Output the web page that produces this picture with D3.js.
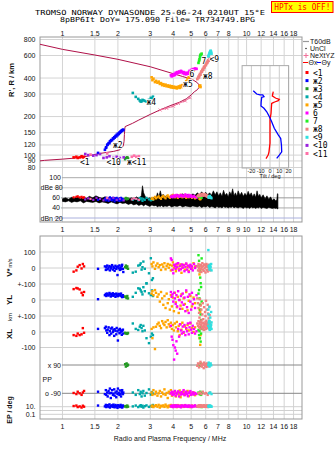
<!DOCTYPE html>
<html lang="en">
<head>
<meta charset="utf-8">
<title>Dynasonde ionogram</title>
<script src="https://cdn.jsdelivr.net/npm/d3@7"></script>
<style>
  body { margin: 0; background: #fff; }
  svg { display: block; }
  text { font-family: "Liberation Sans", Arial, sans-serif; fill: #111; }
  .mono { font-family: "DejaVu Sans Mono", "Liberation Mono", monospace; }
</style>
</head>
<body>
<script>
  // header text
  var titleLine1 = "TROMSO NORWAY   DYNASONDE 25-06-24 0210UT 15\u00B0E";
  var titleLine2 = "8pBP6It DoY= 175.090 File= TR734749.BPG";
  var warnText = "HPTx is OFF!";

  // axis ticks
  var freqTicks = [1, 1.5, 2, 3, 4, 5, 6, 7, 8, 10, 12, 14, 16, 18];
  var freqTicksMid = [1, 1.5, 2, 3, 4, 5, 6, 7, 8, 9, 10, 12, 14, 16, 18];
  var rangeTicks = [800, 600, 400, 300, 200, 150, 120, 100, 90, 80];
  var tiltTicks = [-20, -10, 0, 10, 20];

  // echo classes
  var groupNames = ["<1", "\u04362", "\u04363", "<4", "\u04365", "6", "7", "\u04368", "<9", "<10", "<11"];
  var groupColors = ["#ff0000", "#0000ff", "#229922", "#00a8a8", "#ffa500", "#ff00ff",
                     "#22ee22", "#f08080", "#30e0e0", "#9922dd", "#ff70a8"];

  // echoes: [freq MHz, range km, amplitude dB, V* m/s, YL km, XL km, PP deg, EP deg]
  var echo1 = [
    [1.15, 96, 61, -23, 68, -20, -88, 15], [1.19, 97, 62, -15, 75, -25, -95, 20],
    [1.21, 95, 63, 8, 72, -10, -80, 8], [1.24, 96, 61, 18, 66, -20, -90, 12],
    [1.27, 98, 62, -3, 45, -15, -100, 6], [1.29, 96, 60, 25, 30, 25, -85, 18],
    [1.31, 97, 61, 10, 50, -5, -75, 10]
  ];
  var echo2 = [
    [1.56, 104, 56, -5, 5, 20, -80, 20], [1.70, 110, 58, 10, 30, 25, -95, 12],
    [1.72, 114, 55, -12, 38, 34, -70, 30], [1.73, 115, 60, 4, 25, 10, -100, 8],
    [1.75, 120, 57, 15, 40, -5, -85, 15], [1.76, 121, 59, -8, 32, 15, -110, 25],
    [1.78, 124, 54, 2, 28, 30, -75, 10], [1.80, 124, 58, 12, 44, -20, -90, 40],
    [1.81, 128, 61, -15, 35, 5, -60, 6], [1.83, 129, 56, 6, 22, 22, -120, 18],
    [1.84, 131, 59, -3, 38, -10, -88, 12], [1.86, 131, 55, 18, 30, 28, -70, 22],
    [1.88, 135, 60, -10, 42, 0, -100, 9], [1.89, 134, 57, 8, 26, 12, -92, 35],
    [1.91, 138, 58, 0, 34, -25, -65, 14], [1.92, 137, 53, -18, 36, 18, -105, 7],
    [1.94, 141, 59, 14, 20, 8, -85, 28], [1.96, 140, 56, -6, 40, -15, -115, 11],
    [1.97, 144, 60, 5, 28, 26, -78, 16], [1.99, 143, 55, -44, 33, 4, -95, 5],
    [2.00, 147, 58, 10, 24, -55, -60, 24], [2.02, 146, 57, -2, 38, 14, -88, 13],
    [2.04, 150, 54, 16, 30, -8, -100, 19], [2.05, 149, 59, -12, 35, 20, -72, 8],
    [2.07, 153, 56, 3, 27, -2, -93, 30], [2.08, 152, 60, -8, 40, 10, -110, 10],
    [2.10, 156, 55, 12, 22, -18, -82, 15], [2.11, 155, 58, 20, 18, 6, -70, 6],
    [2.13, 158, 57, -5, 30, 15, -95, 21], [2.14, 157, 56, -25, 20, -10, -85, 12]
  ];
  var echo3 = [
    [2.19, 93, 58, 5, 22, -5, 95, 12], [2.21, 95, 60, 15, 18, -10, 80, 15],
    [2.23, 94, 57, 0, 12, -8, 100, 8], [2.25, 96, 59, 10, 25, -12, 85, 20],
    [2.27, 94, 58, -5, 10, -6, 92, 10]
  ];
  var echo4 = [
    [2.41, 306, 56, -29, 20, 55, -85, 12], [2.50, 285, 58, -23, 45, 20, -100, 20],
    [2.58, 275, 55, 15, 73, 13, -70, 8], [2.63, 267, 60, 19, 70, 34, -95, 15],
    [2.66, 262, 57, 29, 60, 45, -80, 25], [2.69, 263, 59, -10, 50, 25, -110, 10],
    [2.72, 270, 54, 5, 35, 5, -90, 18], [2.75, 268, 58, 40, 80, 40, -75, 6],
    [2.80, 265, 56, -5, 55, 10, -105, 14], [2.86, 263, 60, -96, 104, -40, -88, 22],
    [2.95, 270, 57, -33, 42, -72, -65, 9], [3.02, 280, 55, 61, 31, -30, -98, 16],
    [3.06, 276, 59, -75, 60, -10, -82, 11], [3.10, 286, 56, -64, 25, -20, -92, 28]
  ];
  var echo5 = [
    [3.05, 405, 58, 25, 40, 20, -85, 12], [3.08, 385, 60, 10, 55, -40, -100, 20],
    [3.12, 395, 57, 35, 30, 30, -70, 8], [3.18, 372, 62, -5, 62, -110, -95, 15],
    [3.22, 380, 59, 15, 45, 34, -80, 25], [3.28, 368, 61, 28, 20, 50, -105, 10],
    [3.33, 375, 63, 5, 35, 60, -90, 30], [3.38, 360, 60, 18, -10, 40, -75, 6],
    [3.43, 365, 58, -12, 50, 25, -110, 18], [3.48, 352, 62, 22, 10, 70, -85, 12],
    [3.53, 358, 64, 8, -30, 55, -95, 22], [3.58, 348, 61, 30, 25, 45, -65, 9],
    [3.63, 355, 59, -8, -50, 65, -100, 35], [3.68, 345, 63, 12, 40, 30, -88, 14],
    [3.73, 350, 65, 25, -20, 76, -120, 7], [3.78, 342, 62, 2, 5, 50, -80, 20],
    [3.83, 348, 60, 20, -60, 35, -92, 11], [3.88, 338, 64, -15, 30, 60, -70, 28],
    [3.93, 345, 62, 15, -40, 20, -105, 16], [3.98, 336, 66, 35, 15, 45, -85, 9],
    [4.03, 342, 63, 0, -70, 10, -95, 24], [4.08, 335, 61, 18, 45, 55, -78, 13],
    [4.13, 340, 65, -20, -15, 30, -110, 19], [4.18, 332, 63, 10, -45, 65, -90, 8],
    [4.23, 338, 60, 28, 20, 5, -82, 26], [4.28, 344, 64, -5, -81, 40, -98, 14],
    [4.33, 335, 62, 14, 0, -20, -72, 10], [4.38, 348, 66, 22, -35, 50, -115, 21],
    [4.43, 340, 63, -30, 35, 15, -86, 12], [4.48, 352, 61, 8, -55, 60, -94, 17],
    [4.55, 345, 64, 20, 10, -5, -80, 9], [4.62, 362, 62, -10, -25, 35, -100, 23],
    [4.70, 378, 60, 25, 50, 20, -90, 14], [4.78, 392, 63, 5, -65, 45, -75, 11],
    [4.85, 405, 61, -18, -5, 10, -108, 18], [4.95, 420, 64, 15, 25, 55, -88, 8],
    [5.05, 445, 60, -2, -40, 25, -96, 20], [5.15, 460, 62, 30, 15, 0, -84, 12],
    [5.25, 472, 59, 10, -20, 30, -102, 16], [5.55, 345, 58, -40, -60, -40, -92, 10],
    [5.60, 350, 57, -20, -75, -83, -85, 14], [5.62, 340, 58, -5, -30, -20, -98, 18]
  ];
  var echo6 = [
    [3.88, 420, 62, 60, 50, 40, -90, 15], [3.92, 412, 64, 50, 20, -30, -80, 10],
    [3.96, 425, 61, -12, 35, -50, -100, 22], [4.00, 418, 63, -33, -10, -85, -85, 8],
    [4.04, 430, 65, 20, 45, -178, -95, 18], [4.08, 422, 62, 10, 10, -100, -75, 12],
    [4.12, 440, 64, -5, -25, -120, -105, 25], [4.16, 432, 66, 25, 30, -60, -88, 9],
    [4.20, 445, 63, 5, -40, -140, -92, 14], [4.25, 438, 65, 30, 55, 20, -78, 20],
    [4.30, 450, 62, -15, 0, -30, -110, 11], [4.35, 442, 64, 12, -55, 50, -86, 16],
    [4.40, 455, 66, -8, 25, 10, -98, 7], [4.45, 448, 63, 22, -15, -10, -82, 22],
    [4.50, 436, 65, 2, 40, 35, -94, 13], [4.55, 445, 62, 18, -30, 0, -70, 18],
    [4.60, 430, 64, -20, 15, 45, -102, 10], [4.65, 440, 67, 8, -70, -20, -88, 26],
    [4.70, 428, 63, 28, 60, 25, -80, 12], [4.75, 438, 65, -10, -45, 5, -95, 17],
    [4.80, 432, 62, 15, 20, 55, -108, 9], [4.85, 445, 66, -25, -81, -15, -85, 21],
    [4.90, 455, 64, 5, 35, 30, -90, 14], [4.95, 450, 62, 20, -10, 60, -76, 11],
    [5.00, 462, 65, -5, -60, 15, -100, 19], [5.05, 458, 63, 10, 45, -5, -92, 8],
    [5.10, 470, 61, -15, -25, 40, -84, 16], [5.18, 468, 64, 25, 5, 20, -98, 12],
    [5.25, 475, 62, 0, -50, -10, -88, 23], [5.35, 472, 60, 12, 30, 5, -94, 10]
  ];
  var echo7 = [
    [5.48, 525, 62, 80, 40, 13, -85, 12], [5.52, 545, 64, 45, 62, -20, 95, 18],
    [5.55, 560, 63, 15, 10, 5, -95, 9], [5.58, 580, 65, -20, -30, -40, 85, 15],
    [5.60, 600, 63, -60, -60, 30, -80, 20], [5.63, 610, 61, -95, -90, -62, 100, 10],
    [5.66, 590, 62, -119, -125, -10, -100, 14], [5.70, 620, 60, 60, -10, 20, -88, 8]
  ];
  var echo8 = [
    [5.40, 392, 63, 10, 10, 55, 85, 12], [5.45, 400, 65, -15, -20, 40, 100, 18],
    [5.48, 410, 64, 25, -50, 70, -90, 9], [5.52, 405, 66, 0, -80, 30, 75, 22],
    [5.55, 420, 63, -20, -110, 50, 95, 14], [5.58, 430, 65, 15, 5, 65, -85, 10],
    [5.62, 425, 67, -5, -35, 20, 110, 25], [5.65, 440, 64, 20, -140, 45, 88, 12],
    [5.68, 450, 66, -25, -60, 75, -95, 16], [5.72, 445, 68, 5, -170, 35, 80, 9],
    [5.75, 460, 65, 30, -90, 55, 98, 20], [5.78, 470, 67, -10, -20, 25, -80, 13],
    [5.82, 465, 64, 12, -120, 60, 92, 18], [5.85, 480, 66, -18, -187, 40, 70, 11],
    [5.88, 490, 68, 22, -45, 15, 105, 24], [5.92, 485, 65, -2, -150, 50, -92, 9],
    [5.95, 500, 67, 18, -75, 30, 85, 15], [5.98, 510, 64, -28, -100, 65, 95, 12],
    [6.02, 505, 66, 8, -5, 20, -88, 19], [6.05, 520, 63, 25, -130, 45, 78, 10],
    [6.08, 530, 65, -12, -60, 55, 100, 16], [6.12, 525, 62, 14, -160, 25, 90, 22],
    [6.15, 540, 64, -22, -30, 40, -100, 8], [6.18, 550, 61, 5, -85, 60, 82, 14],
    [6.22, 545, 63, 20, -115, 30, 96, 18], [6.26, 560, 60, -8, -45, 50, 88, 12],
    [6.30, 565, 62, 12, -95, 20, -85, 10], [6.33, 572, 60, -15, -140, 35, 92, 16]
  ];
  var echo9 = [
    [6.20, 590, 62, 112, -60, 40, 90, 12], [6.23, 600, 60, 12, -90, 60, 105, 18],
    [6.26, 612, 63, 4, -130, 25, -90, 9], [6.29, 625, 61, -10, -42, 70, 80, 15],
    [6.32, 635, 64, 20, -187, 15, 95, 20], [6.35, 645, 62, -5, -110, 50, -85, 11],
    [6.38, 654, 60, 8, -160, 30, 100, 16], [6.42, 640, 61, 25, -75, 45, 88, 13],
    [6.45, 620, 59, -15, -140, 20, -95, 10]
  ];
  // E-region echoes: range and amplitude only
  var echo10 = [
    [1.33, 102, 57], [1.38, 100, 59], [1.47, 99, 56], [1.53, 100, 60],
    [1.60, 102, 58], [1.67, 95, 55], [1.74, 96, 59], [1.80, 98, 57],
    [1.89, 95, 60], [1.97, 97, 56], [2.05, 95, 58], [2.15, 96, 55]
  ];
  var echo11 = [
    [1.42, 101, 58], [1.75, 103, 60], [2.38, 97, 57], [2.45, 99, 59],
    [2.52, 97, 58], [2.60, 98, 56]
  ];
  var echoGroups = [echo1, echo2, echo3, echo4, echo5, echo6, echo7, echo8, echo9, echo10, echo11];

  // plasma frequency profile [MHz, km]
  var profile = [
    [0.70, 89], [0.80, 91], [1.0, 93], [1.25, 95.5], [1.6, 103], [1.9, 107], [2.05, 110],
    [2.14, 118], [2.16, 128], [2.17, 145], [2.18, 160], [2.19, 167], [2.4, 177], [2.6, 188],
    [3.0, 208], [3.4, 226], [3.84, 243], [4.3, 258], [4.7, 275], [5.0, 295], [5.2, 312],
    [5.4, 324], [5.52, 338], [5.5, 355], [5.4, 368], [5.1, 388], [4.5, 411], [3.84, 440],
    [3.0, 490], [2.0, 560], [1.5, 605], [1.0, 670], [0.755, 734], [0.70, 750]
  ];
  var nextyz = [[3.39, 225], [3.68, 232], [4.0, 241], [4.26, 253], [4.64, 265], [4.93, 281]];

  // tilt profiles [km, deg]
  var tiltX = [
    [313, 3.5], [300, 3.0], [290, 2.5], [282, 5], [278, 6.5], [273, 10], [266, 8.9], [260, 5],
    [257, 3.5], [253, 1.8], [230, 1.4], [212, 1.1], [188, 0], [150, 0], [124, 0], [106, -1.1],
    [100, -2], [94, -4.3]
  ];
  var tiltY = [
    [318, -18], [300, -14.3], [295, -10.8], [295, -7.8], [286, -6.5], [283, -8.9], [260, -9.5],
    [242, -9.7], [232, -6.5], [218, -3.5], [200, -0.8], [182, 1.8], [162, 4.6], [144, 8.9],
    [135, 11.5], [120, 12.3], [106, 12.6], [100, 10], [94.4, 7.2]
  ];

  // receiver noise band [MHz], upper and lower edge [dB]
  var noiseF = [1.00, 1.04, 1.08, 1.12, 1.16, 1.20, 1.25, 1.30, 1.35, 1.40, 1.46, 1.52, 1.58, 1.64,
    1.70, 1.77, 1.84, 1.91, 1.98, 2.05, 2.12, 2.20, 2.28, 2.36, 2.44, 2.52, 2.60, 2.68, 2.72, 2.76,
    2.82, 2.90, 2.98, 3.06, 3.14, 3.22, 3.28, 3.34, 3.40, 3.46, 3.52, 3.60, 3.70, 3.80, 3.92, 4.05,
    4.20, 4.35, 4.50, 4.65, 4.80, 4.95, 5.10, 5.25, 5.40, 5.55, 5.70, 5.85, 6.00, 6.15, 6.30, 6.45,
    6.60, 6.75, 6.90, 7.05, 7.20, 7.35, 7.50, 7.65, 7.80, 7.95, 8.10, 8.25, 8.40, 8.55, 8.70, 8.85,
    9.00, 9.20, 9.40, 9.60, 9.80, 10.0, 10.2, 10.4, 10.6, 10.8, 11.0, 11.2, 11.4, 11.6, 11.8, 12.0,
    12.3, 12.6, 12.9, 13.2, 13.5, 13.8, 14.1, 14.4, 14.6, 14.7, 14.8];
  var noiseTop = [58, 60, 57, 61, 59, 62, 58, 61, 59, 63, 60, 64, 61, 59,
    62, 60, 58, 61, 57, 60, 56, 59, 57, 60, 58, 62, 59, 64, 84, 70,
    62, 58, 60, 57, 61, 59, 70, 62, 74, 63, 67, 62, 65, 61, 66, 62,
    67, 63, 68, 64, 67, 63, 68, 65, 70, 66, 72, 67, 71, 66, 70, 65,
    74, 66, 72, 64, 70, 63, 75, 65, 69, 62, 72, 66, 78, 64, 70, 63,
    74, 65, 71, 63, 69, 64, 73, 65, 70, 62, 68, 61, 74, 63, 67, 60,
    66, 58, 64, 57, 62, 55, 58, 54, 56, 68, 68];
  var noiseBot = [53, 52, 54, 51, 53, 52, 54, 50, 53, 52, 51, 53, 50, 52,
    51, 49, 52, 50, 48, 51, 49, 50, 47, 49, 46, 48, 45, 47, 46, 44,
    47, 45, 43, 46, 44, 45, 42, 44, 43, 45, 42, 44, 43, 45, 42, 44,
    43, 45, 42, 44, 43, 42, 44, 43, 42, 44, 41, 43, 42, 44, 41, 43,
    42, 40, 43, 41, 42, 40, 43, 41, 42, 40, 42, 41, 43, 40, 42, 41,
    40, 42, 41, 39, 42, 40, 41, 39, 42, 40, 41, 39, 41, 40, 42, 39,
    41, 40, 39, 41, 40, 39, 40, 39, 40, 38, 38];

  // trace labels [text, MHz, km]
  var traceLabels = [
    ["<1", 1.245, 84.4], ["<10", 1.734, 84.4], ["\u0436<11", 2.24, 84.4], ["\u04362", 1.88, 112.7],
    ["\u04364", 2.86, 248], ["\u04365", 4.52, 340], ["6", 4.9, 411], ["\u04368", 5.8, 393],
    ["7", 5.69, 519], ["<9", 6.29, 538]
  ];

  var W = 335, H = 451;
  var left = 40, right = 302;
  var topY0 = 37, topY1 = 222, botY0 = 236, botY1 = 419;

  var x = d3.scaleLog().domain([0.755, 20]).range([left, right]);
  var yR = d3.scaleLog().domain([800, 80]).range([39.5, 167.5]);
  var yAmp = d3.scaleLinear().domain([20, 100]).range([218, 177.7]);
  var yV = d3.scaleLinear().domain([-100, 100]).range([284, 252]);
  var yYL = d3.scaleLinear().domain([-100, 100]).range([316, 284]);
  var yXL = d3.scaleLinear().domain([-100, 100]).range([347.5, 316.5]);
  var yPP = d3.scaleLinear().domain([-90, 90]).range([393.3, 365]);
  var yEP = d3.scaleLog().domain([0.1, 10]).range([414.3, 406.7]);
  var xTilt = d3.scaleLinear().domain([-30, 20]).range([242.1, 288.6]);

  var svg = d3.select("body").append("svg").attr("width", W).attr("height", H);
  var defs = svg.append("defs");
  function addClip(id, x0, y0, w, h) {
    defs.append("clipPath").attr("id", id).append("rect")
      .attr("x", x0).attr("y", y0).attr("width", w).attr("height", h);
  }
  addClip("clipRange", left, topY0, right - left, 171 - topY0);
  addClip("clipAmp", left, 171, right - left, topY1 - 171);
  addClip("clipBot", left, botY0, right - left, botY1 - botY0);

  // ----- header
  svg.append("text").attr("class", "mono").attr("x", 150).attr("y", 14.5)
    .attr("text-anchor", "middle").attr("textLength", 230).attr("lengthAdjust", "spacingAndGlyphs")
    .style("font-size", "7px").style("fill", "#000").text(titleLine1);
  svg.append("text").attr("class", "mono").attr("x", 157.5).attr("y", 22)
    .attr("text-anchor", "middle").attr("textLength", 195).attr("lengthAdjust", "spacingAndGlyphs")
    .style("font-size", "7px").style("fill", "#000").text(titleLine2);
  svg.append("rect").attr("x", 271.5).attr("y", 1.5).attr("width", 61.5).attr("height", 11)
    .attr("fill", "#ffff00").attr("stroke", "#ff0000").attr("stroke-width", 1);
  svg.append("text").attr("class", "mono").attr("x", 302.3).attr("y", 10.3)
    .attr("text-anchor", "middle").attr("textLength", 56).attr("lengthAdjust", "spacingAndGlyphs")
    .style("font-size", "8px").style("fill", "#ff0000").text(warnText);

  // ----- grid
  var grid = svg.append("g");
  [[topY0, topY1], [botY0, botY1]].forEach(function(p) {
    grid.selectAll(null).data(freqTicksMid).enter().append("line")
      .attr("x1", function(d) { return x(d); }).attr("x2", function(d) { return x(d); })
      .attr("y1", p[0]).attr("y2", p[1])
      .attr("stroke", "#d4d4d4").attr("stroke-width", 1);
  });
  grid.selectAll(null).data(rangeTicks).enter().append("line")
    .attr("x1", left).attr("x2", right)
    .attr("y1", function(d) { return yR(d); }).attr("y2", function(d) { return yR(d); })
    .attr("stroke", "#d4d4d4");

  // amplitude grid with labels sitting inside the frame
  var ampRows = [
    { v: 100, label: "100", anchor: "end", lx: 61, x0: 62, col: "#aaaaaa" },
    { v: 80, label: "dBe 80", anchor: "start", lx: 40.5, x0: 54, col: "#cccccc" },
    { v: 60, label: "60", anchor: "end", lx: 60, x0: 61, col: "#999999" },
    { v: 40, label: "40", anchor: "end", lx: 60, x0: 61, col: "#aaaaaa" },
    { v: 20, label: "dBn 20", anchor: "start", lx: 40.5, x0: 54, col: "#aab0dd" }
  ];
  ampRows.forEach(function(r) {
    grid.append("line").attr("x1", r.x0).attr("x2", right)
      .attr("y1", yAmp(r.v)).attr("y2", yAmp(r.v)).attr("stroke", r.col);
    svg.append("text").attr("x", r.lx).attr("y", yAmp(r.v) + 2.5)
      .attr("text-anchor", r.anchor).style("font-size", "7px").text(r.label);
  });

  // bottom panel grid
  var botGrid = [yV(100), yV(0), yV(-100), yYL(0), yYL(-100), yXL(0), yXL(-100),
                 yEP(10), yEP(1), yEP(0.1)];
  grid.selectAll(null).data(botGrid).enter().append("line")
    .attr("x1", left).attr("x2", right)
    .attr("y1", function(d) { return d; }).attr("y2", function(d) { return d; })
    .attr("stroke", "#d0d0d0");
  [90, -90].forEach(function(v) {
    grid.append("line").attr("x1", 62).attr("x2", right)
      .attr("y1", yPP(v)).attr("y2", yPP(v)).attr("stroke", "#888");
  });

  // frames
  svg.append("rect").attr("x", left).attr("y", topY0).attr("width", right - left)
    .attr("height", topY1 - topY0).attr("fill", "none").attr("stroke", "#999");
  svg.append("rect").attr("x", left).attr("y", botY0).attr("width", right - left)
    .attr("height", botY1 - botY0).attr("fill", "none").attr("stroke", "#999");

  // ----- amplitude panel
  var ampG = svg.append("g").attr("clip-path", "url(#clipAmp)");
  var noiseArea = d3.area()
    .x(function(d, i) { return x(noiseF[i]); })
    .y0(function(d, i) { return yAmp(noiseBot[i]); })
    .y1(function(d, i) { return yAmp(noiseTop[i]); });
  ampG.append("path").attr("d", noiseArea(noiseF)).attr("fill", "#000")
    .attr("stroke", "#000").attr("stroke-width", 0.6);

  echoGroups.forEach(function(rows, gi) {
    ampG.selectAll(null).data(rows).enter().append("rect")
      .attr("x", function(d) { return x(d[0]) - 1.1; })
      .attr("y", function(d) { return yAmp(d[2]) - 1.1; })
      .attr("width", 2.2).attr("height", 2.2).attr("fill", groupColors[gi]);
  });

  // ----- range panel
  var rangeG = svg.append("g").attr("clip-path", "url(#clipRange)");
  var profLine = d3.line()
    .x(function(d) { return x(d[0]); })
    .y(function(d) { return yR(d[1]); });
  rangeG.append("path").attr("d", profLine(profile)).attr("fill", "none")
    .attr("stroke", "#b01048").attr("stroke-width", 1);
  rangeG.append("path").attr("d", profLine(nextyz)).attr("fill", "none")
    .attr("stroke", "#f0709a").attr("stroke-width", 1);
  rangeG.selectAll(null).data(nextyz).enter().append("path")
    .attr("transform", function(d) { return "translate(" + x(d[0]) + "," + yR(d[1]) + ")"; })
    .attr("d", "M-1.5,-1.5L1.5,1.5M-1.5,1.5L1.5,-1.5")
    .attr("stroke", "#f0709a").attr("stroke-width", 0.9);

  echoGroups.forEach(function(rows, gi) {
    rangeG.selectAll(null).data(rows).enter().append("rect")
      .attr("x", function(d) { return x(d[0]) - 1.3; })
      .attr("y", function(d) { return yR(d[1]) - 1.3; })
      .attr("width", 2.6).attr("height", 2.6).attr("fill", groupColors[gi]);
  });

  svg.selectAll(null).data(traceLabels).enter().append("text")
    .attr("class", "mono")
    .attr("x", function(d) { return x(d[1]); })
    .attr("y", function(d) { return yR(d[2]); })
    .style("font-size", "8px").style("fill", "#000")
    .style("paint-order", "stroke").style("stroke", "#fff").style("stroke-width", "1.6px")
    .text(function(d) { return d[0]; });

  // ----- tilt inset (shares the height axis)
  var inset = svg.append("g");
  var iy0 = yR(500), iy1 = yR(80) + 0.5;
  inset.append("rect").attr("x", xTilt(-30)).attr("y", iy0)
    .attr("width", xTilt(20) - xTilt(-30)).attr("height", iy1 - iy0)
    .attr("fill", "#fff");
  inset.selectAll(null).data(tiltTicks).enter().append("line")
    .attr("x1", function(d) { return xTilt(d); }).attr("x2", function(d) { return xTilt(d); })
    .attr("y1", iy0).attr("y2", iy1).attr("stroke", "#cccccc");
  inset.selectAll(null).data(rangeTicks.filter(function(d) { return d < 500; })).enter().append("line")
    .attr("x1", xTilt(-30)).attr("x2", xTilt(20))
    .attr("y1", function(d) { return yR(d); }).attr("y2", function(d) { return yR(d); })
    .attr("stroke", "#d4d4d4");
  inset.append("rect").attr("x", xTilt(-30)).attr("y", iy0)
    .attr("width", xTilt(20) - xTilt(-30)).attr("height", iy1 - iy0)
    .attr("fill", "none").attr("stroke", "#aaa");
  var tiltLine = d3.line()
    .x(function(d) { return xTilt(d[1]); })
    .y(function(d) { return yR(d[0]); });
  inset.append("path").attr("d", tiltLine(tiltX)).attr("fill", "none")
    .attr("stroke", "#ff0000").attr("stroke-width", 1.3);
  inset.append("path").attr("d", tiltLine(tiltY)).attr("fill", "none")
    .attr("stroke", "#0000ff").attr("stroke-width", 1.3);
  inset.selectAll(null).data(tiltTicks).enter().append("text")
    .attr("x", function(d) { return xTilt(d); }).attr("y", iy1 + 4.5)
    .attr("text-anchor", "middle").style("font-size", "5.5px")
    .text(function(d) { return d; });
  inset.append("text").attr("x", xTilt(0)).attr("y", iy1 + 9.5)
    .attr("text-anchor", "middle").style("font-size", "5.5px").text("Tilt / deg");

  // ----- bottom panel
  var botG = svg.append("g").attr("clip-path", "url(#clipBot)");
  var botRows = [
    { i: 3, s: yV }, { i: 4, s: yYL }, { i: 5, s: yXL }, { i: 6, s: yPP }, { i: 7, s: yEP }
  ];
  echoGroups.forEach(function(rows, gi) {
    var full = rows.filter(function(d) { return d.length > 3; });
    botRows.forEach(function(b) {
      botG.selectAll(null).data(full).enter().append("rect")
        .attr("x", function(d) { return x(d[0]) - 1.2; })
        .attr("y", function(d) { return b.s(d[b.i]) - 1.2; })
        .attr("width", 2.4).attr("height", 2.4).attr("fill", groupColors[gi]);
    });
  });

  // ----- frequency tick labels
  [[35.5, freqTicks], [231.5, freqTicksMid], [428.5, freqTicks]].forEach(function(p) {
    svg.selectAll(null).data(p[1]).enter().append("text")
      .attr("x", function(d) { return x(d); }).attr("y", p[0])
      .attr("text-anchor", "middle").style("font-size", "7px")
      .text(function(d) { return d; });
  });

  // range labels
  svg.selectAll(null).data(rangeTicks).enter().append("text")
    .attr("x", 35.5).attr("y", function(d) { return yR(d) + 2.5; })
    .attr("text-anchor", "end").style("font-size", "7px")
    .text(function(d) { return d; });

  // bottom panel labels
  var botLabels = [
    [yV(100), "100"], [yV(0), "0"], [yV(-100), "+-100"], [yYL(0), "0"], [yYL(-100), "+-100"],
    [yXL(0), "0"], [yXL(-100), "-100"], [yEP(10), "10."], [yEP(0.1), "0.1"]
  ];
  svg.selectAll(null).data(botLabels).enter().append("text")
    .attr("x", 35.5).attr("y", function(d) { return d[0] + 2.5; })
    .attr("text-anchor", "end").style("font-size", "7px")
    .text(function(d) { return d[1]; });
  svg.append("text").attr("x", 61).attr("y", yPP(90) + 2.5).attr("text-anchor", "end")
    .style("font-size", "7px").text("x 90");
  svg.append("text").attr("x", 61).attr("y", yPP(-90) + 2.5).attr("text-anchor", "end")
    .style("font-size", "7px").text("o -90");
  svg.append("text").attr("x", 42.5).attr("y", 381.5).style("font-size", "7px").text("PP");

  // rotated axis names
  function vText(cx, cy, size, str, bold) {
    svg.append("text").attr("transform", "translate(" + cx + "," + cy + ") rotate(-90)")
      .attr("text-anchor", "middle").style("font-size", size + "px")
      .style("font-weight", bold ? "bold" : "normal").text(str);
  }
  vText(14, 80, 7.5, "R', R / km", true);
  vText(12, 272.5, 8, "V*", true);
  vText(11.5, 263, 5.5, "m/s", false);
  vText(12, 300, 8, "YL", true);
  vText(11.5, 317, 6, "km", false);
  vText(12, 334, 8, "XL", true);
  vText(12, 410, 7, "EP / deg", true);

  svg.append("text").attr("x", 170).attr("y", 440.5).attr("text-anchor", "middle")
    .style("font-size", "7px").text("Radio and Plasma Frequency / MHz");

  // ----- legend
  var lg = svg.append("g");
  lg.append("line").attr("x1", 303).attr("x2", 309).attr("y1", 41.5).attr("y2", 41.5)
    .attr("stroke", "#999").attr("stroke-width", 1.2);
  lg.append("text").attr("x", 310).attr("y", 44).style("font-size", "7px").text("T60dB");
  lg.append("circle").attr("cx", 306).attr("cy", 48.5).attr("r", 0.7).attr("fill", "#000");
  lg.append("text").attr("x", 310).attr("y", 51).style("font-size", "7px").text("UnCl");
  lg.append("path").attr("d", "M303.5,55.5h5M306,53v5").attr("stroke", "#f0709a");
  lg.append("text").attr("x", 310).attr("y", 58).style("font-size", "7px").text("NeXtYZ");
  lg.append("line").attr("x1", 303).attr("x2", 308).attr("y1", 62.5).attr("y2", 62.5)
    .attr("stroke", "#ff0000");
  lg.append("text").attr("x", 308.5).attr("y", 65).style("font-size", "7px").text("\u0398x");
  lg.append("line").attr("x1", 317).attr("x2", 321).attr("y1", 62.5).attr("y2", 62.5)
    .attr("stroke", "#0000ff");
  lg.append("text").attr("x", 321.5).attr("y", 65).style("font-size", "7px").text("\u0398y");

  groupNames.forEach(function(name, i) {
    var cy = 72.5 + i * 8.1;
    lg.append("rect").attr("x", 305.5).attr("y", cy - 1.5).attr("width", 3).attr("height", 3)
      .attr("fill", groupColors[i]);
    lg.append("text").attr("class", "mono").attr("x", 313).attr("y", cy + 3)
      .style("font-size", "8px").style("fill", "#000")
      .text(name.length < 2 ? " " + name : name);
  });
</script>
</body>
</html>
